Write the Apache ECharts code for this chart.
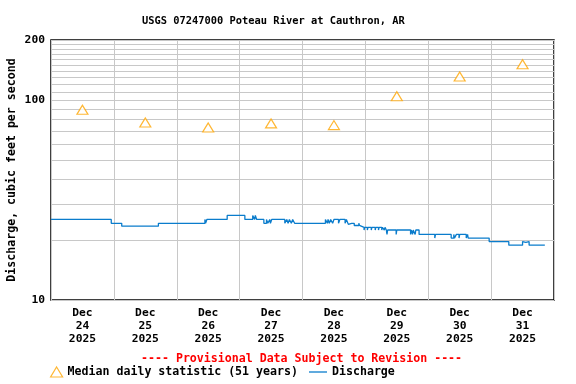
<!DOCTYPE html>
<html><head><meta charset="utf-8">
<script src="https://cdn.jsdelivr.net/npm/echarts@6/dist/echarts.min.js"></script>
<style>html,body{margin:0;padding:0;background:#fff}#c{width:576px;height:384px}</style>
</head><body><div id="c"></div>
<script>
const titleText = 'USGS 07247000 Poteau River at Cauthron, AR';
const provisionalText = '---- Provisional Data Subject to Revision ----';
const yAxisName = 'Discharge, cubic feet per second';
const medianName = 'Median daily statistic (51 years)';
const dischargeName = 'Discharge';

// x tick labels
const xLabelMonth = 'Dec';
const xLabelDays = [24, 25, 26, 27, 28, 29, 30, 31];
const xLabelYear = 2025;
// y tick labels / grid values
const yLabelValues = [10, 100, 200];
const yGridValues = [10, 20, 30, 40, 50, 60, 70, 80, 90, 100, 110, 120, 130, 140, 150, 160, 170, 180, 190, 200];

// median daily statistic (at noon of each day)
const medianTimes = ['2025-12-24 12:00', '2025-12-25 12:00', '2025-12-26 12:00', '2025-12-27 12:00',
  '2025-12-28 12:00', '2025-12-29 12:00', '2025-12-30 12:00', '2025-12-31 12:00'];
const medianValues = [89.5, 77.3, 73.0, 76.5, 75.0, 104.7, 131.4, 151.3];

// discharge (step changes)
const dischargeTimes = [
  '2025-12-24 00:00', '2025-12-24 23:00', '2025-12-25 03:00', '2025-12-25 03:15', '2025-12-25 03:30',
  '2025-12-25 17:00', '2025-12-26 10:45', '2025-12-26 11:00', '2025-12-26 11:30', '2025-12-26 19:15',
  '2025-12-27 02:00', '2025-12-27 05:00', '2025-12-27 05:45', '2025-12-27 06:00', '2025-12-27 06:30',
  '2025-12-27 09:15', '2025-12-27 10:15', '2025-12-27 10:45', '2025-12-27 11:30', '2025-12-27 11:45',
  '2025-12-27 12:15', '2025-12-27 17:15', '2025-12-27 18:00', '2025-12-27 18:30', '2025-12-27 19:00',
  '2025-12-27 19:45', '2025-12-27 20:15', '2025-12-27 21:00', '2025-12-28 08:45', '2025-12-28 09:30',
  '2025-12-28 09:45', '2025-12-28 10:15', '2025-12-28 10:45', '2025-12-28 11:30', '2025-12-28 12:00',
  '2025-12-28 13:45', '2025-12-28 14:15', '2025-12-28 16:15', '2025-12-28 16:45', '2025-12-28 17:30',
  '2025-12-28 18:00', '2025-12-28 18:45', '2025-12-28 19:00', '2025-12-28 19:45', '2025-12-28 21:30',
  '2025-12-28 21:45', '2025-12-28 22:00', '2025-12-28 23:30', '2025-12-28 23:45', '2025-12-29 00:45',
  '2025-12-29 01:00', '2025-12-29 02:15', '2025-12-29 02:30', '2025-12-29 03:45', '2025-12-29 04:00',
  '2025-12-29 05:00', '2025-12-29 05:15', '2025-12-29 06:15', '2025-12-29 06:30', '2025-12-29 07:15',
  '2025-12-29 07:30', '2025-12-29 08:00', '2025-12-29 08:15', '2025-12-29 08:30', '2025-12-29 11:45',
  '2025-12-29 12:00', '2025-12-29 17:15', '2025-12-29 17:30', '2025-12-29 18:00', '2025-12-29 18:15',
  '2025-12-29 19:00', '2025-12-29 19:15', '2025-12-29 20:30', '2025-12-30 02:30', '2025-12-30 02:45',
  '2025-12-30 08:45', '2025-12-30 09:45', '2025-12-30 10:00', '2025-12-30 10:45', '2025-12-30 11:45',
  '2025-12-30 12:00', '2025-12-30 14:30', '2025-12-30 15:00', '2025-12-30 15:15', '2025-12-30 16:00',
  '2025-12-30 23:15', '2025-12-31 06:45', '2025-12-31 12:00', '2025-12-31 12:45', '2025-12-31 13:15',
  '2025-12-31 14:30', '2025-12-31 20:30'
];
const dischargeValues = [
  25.3, 24.2, 23.4, 23.9, 23.4,
  24.2, 25.3, 24.2, 25.3, 26.5,
  25.3, 26.5, 25.3, 26.5, 25.3,
  24.2, 25.3, 24.2, 25.3, 24.2,
  25.3, 24.2, 25.3, 24.2, 25.3,
  24.2, 25.3, 24.2, 25.3, 24.2,
  25.3, 24.2, 25.3, 24.2, 25.3,
  24.2, 25.3, 24.2, 25.3, 23.9,
  24.2, 23.9, 24.2, 23.6, 24.2,
  23.6, 23.1, 22.4, 23.1, 22.4,
  23.1, 22.4, 23.1, 22.4, 23.1,
  22.4, 23.1, 22.4, 23.1, 22.4,
  23.1, 22.4, 21.3, 22.4, 21.3,
  22.4, 21.3, 22.4, 21.3, 22.4,
  21.3, 22.4, 21.3, 20.4, 21.3,
  20.4, 21.3, 20.4, 21.3, 20.4,
  21.3, 20.4, 21.3, 20.4, 20.4,
  19.6, 18.8, 19.6, 19.4, 19.6,
  18.8, 18.8
];

const mono = 'DejaVu Sans Mono';
const ts = s => +new Date(s.replace(' ', 'T') + ':00');
const dayStartTimes = xLabelDays.concat([32]).map(d => +new Date(2025, 11, d, 0, 0));
const dayNoonTimes = xLabelDays.map(d => +new Date(2025, 11, d, 12, 0));
const legendText = {fontFamily: mono, fontWeight: 'bold', fontSize: 11.6, color: '#000'};

const chart = echarts.init(document.getElementById('c'), null, {renderer: 'canvas'});
chart.setOption({
  animation: false,
  backgroundColor: '#fff',
  title: [
    {text: titleText, left: 142, top: 16, padding: 0,
     textStyle: {fontFamily: mono, fontWeight: 'bold', fontSize: 10.4, color: '#000'}},
    {text: provisionalText, left: 136, top: 348,
     textStyle: {fontFamily: mono, fontWeight: 'bold', fontSize: 11.6, color: '#ff0000'}}
  ],
  grid: {left: 51, right: 22, top: 40, bottom: 84, outerBoundsMode: 'none', containLabel: false,
         show: true, borderColor: '#000', borderWidth: 1.5, backgroundColor: 'transparent'},
  legend: [
    {left: 50, top: 366, padding: 0, itemGap: 8, itemWidth: 12, itemHeight: 10, textStyle: legendText,
     data: [{name: medianName, icon: 'triangle', itemStyle: {color: '#fff', borderColor: '#ffa500', borderWidth: 1.2}}]},
    {left: 309, top: 366, padding: 0, itemGap: 8, itemWidth: 18, itemHeight: 1.3, textStyle: legendText,
     data: [{name: dischargeName, icon: 'rect', itemStyle: {color: '#0a7ccc'}}]}
  ],
  xAxis: {
    type: 'value',
    min: dayStartTimes[0], max: dayStartTimes[dayStartTimes.length - 1],
    axisLine: {show: false},
    axisTick: {show: false, customValues: dayStartTimes},
    splitLine: {show: true, lineStyle: {color: '#c8c8c8', width: 1}},
    axisLabel: {
      customValues: dayNoonTimes,
      margin: 7, lineHeight: 13,
      fontFamily: mono, fontWeight: 'bold', fontSize: 11.3, color: '#000',
      formatter: v => xLabelMonth + '\n' + new Date(v).getDate() + '\n' + xLabelYear
    }
  },
  yAxis: {
    type: 'log', logBase: 10, min: 10, max: 200,
    name: yAxisName, nameLocation: 'middle', nameGap: 33, nameRotate: 90, nameMoveOverlap: false,
    nameTextStyle: {fontFamily: mono, fontWeight: 'bold', fontSize: 11.6, color: '#000'},
    axisLine: {show: false},
    axisTick: {show: false, customValues: yGridValues},
    splitLine: {show: true, lineStyle: {color: '#c8c8c8', width: 1}},
    axisLabel: {
      customValues: yLabelValues, margin: 6,
      fontFamily: mono, fontWeight: 'bold', fontSize: 11.3, color: '#000'
    }
  },
  series: [
    {
      name: medianName, type: 'scatter',
      data: medianTimes.map((t, i) => [ts(t), medianValues[i]]),
      symbol: 'triangle', symbolSize: [11, 9],
      itemStyle: {color: '#fff', borderColor: '#ffa500', borderWidth: 1.2},
      z: 3
    },
    {
      name: dischargeName, type: 'line', step: 'end',
      data: dischargeTimes.map((t, i) => [ts(t), dischargeValues[i]]),
      showSymbol: false, symbol: 'none',
      lineStyle: {color: '#0a7ccc', width: 1.3},
      itemStyle: {color: '#0a7ccc'},
      z: 2
    }
  ]
});
</script>
</body></html>
